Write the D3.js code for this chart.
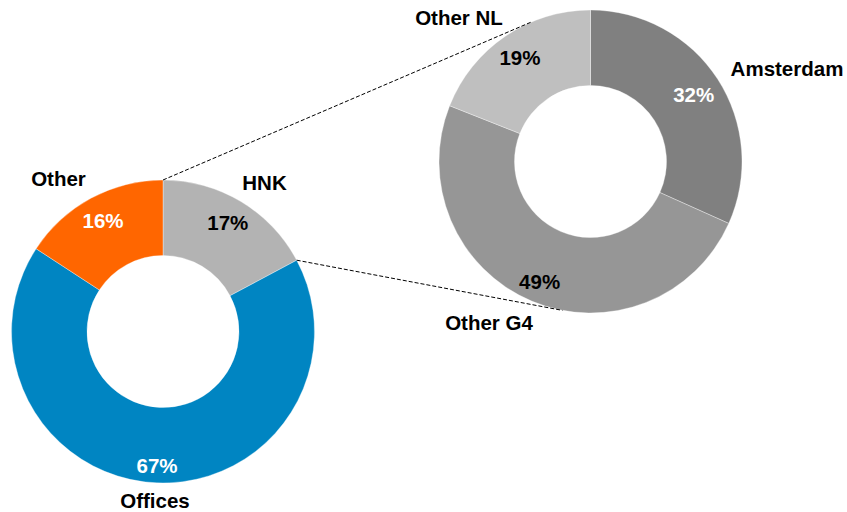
<!DOCTYPE html>
<html>
<head>
<meta charset="utf-8">
<script src="https://cdn.jsdelivr.net/npm/d3@7"></script>
<style>
  html, body { margin: 0; padding: 0; background: #fff; }
  svg text { font-family: "Liberation Sans", Arial, sans-serif; font-weight: bold; }
</style>
</head>
<body>
<svg id="chart" width="847" height="512"></svg>
<script>
// ---- data ----
const mainCategories = ["HNK", "Offices", "Other"];
const mainValues = [17.2, 67.0, 15.8];
const mainColors = ["#b3b3b3", "#0085c2", "#ff6600"];
const mainLabelColors = ["#000", "#fff", "#fff"];

const subCategories = ["Amsterdam", "Other G4", "Other NL"];
const subValues = [31.7, 49.3, 19.0];
const subColors = ["#808080", "#969696", "#bfbfbf"];
const subLabelColors = ["#fff", "#000", "#000"];

// ---- layout ----
const svg = d3.select("#chart");
const R = 151.5, r0 = 76;
const mainC = { x: 163, y: 331.5 };
const subC = { x: 590.5, y: 161.5 };
const fontSize = 20.5;

// per-label placement (radius for percent, offset for name)
const mainPctRadius = [126, 135, 126];
const mainNameOffset = [[101.5, -141.5], [-8, 176], [-104.5, -146]];
const subPctRadius = [123, 131, 125.5];
const subNameOffset = [[196.5, -85.5], [-101.5, 168.5], [-131.5, -136.5]];

const pie = d3.pie().sort(null).value(d => d.v);
const arc = d3.arc().innerRadius(r0).outerRadius(R);

function donut(center, cats, vals, colors, labelColors, pctRadius, nameOffset) {
  const data = cats.map((c, i) => ({ c, v: vals[i], i }));
  const arcs = pie(data);
  const g = svg.append("g").attr("transform", `translate(${center.x},${center.y})`);
  g.selectAll("path").data(arcs).join("path")
    .attr("d", arc)
    .attr("fill", d => colors[d.data.i])
    .attr("stroke", "#fff")
    .attr("stroke-width", 0.35);
  const total = d3.sum(vals);
  g.selectAll("text.pct").data(arcs).join("text")
    .attr("class", "pct")
    .attr("text-anchor", "middle")
    .attr("font-size", fontSize)
    .attr("fill", d => labelColors[d.data.i])
    .attr("x", d => { const a = (d.startAngle + d.endAngle) / 2; return pctRadius[d.data.i] * Math.sin(a); })
    .attr("y", d => { const a = (d.startAngle + d.endAngle) / 2; return -pctRadius[d.data.i] * Math.cos(a) + 7; })
    .text(d => Math.round(d.data.v / total * 100) + "%");
  g.selectAll("text.name").data(arcs).join("text")
    .attr("class", "name")
    .attr("text-anchor", "middle")
    .attr("font-size", fontSize)
    .attr("fill", "#000")
    .attr("x", d => nameOffset[d.data.i][0])
    .attr("y", d => nameOffset[d.data.i][1])
    .text(d => d.data.c);
  return arcs;
}

const mainArcs = donut(mainC, mainCategories, mainValues, mainColors, mainLabelColors, mainPctRadius, mainNameOffset);
donut(subC, subCategories, subValues, subColors, subLabelColors, subPctRadius, subNameOffset);

// ---- connector lines: tangents from the HNK slice edges to the sub donut ----
function polar(c, a) { return { x: c.x + R * Math.sin(a), y: c.y - R * Math.cos(a) }; }
function tangent(p, c, side) {
  const dx = p.x - c.x, dy = p.y - c.y;
  const d = Math.hypot(dx, dy);
  const phi = Math.atan2(dy, dx);
  const t = Math.acos(R / d);
  const a = phi + side * t;
  return { x: c.x + R * Math.cos(a), y: c.y + R * Math.sin(a) };
}
const hnk = mainArcs[0];
const p1 = polar(mainC, hnk.startAngle);
const p2 = polar(mainC, hnk.endAngle);
const t1 = tangent(p1, subC, 1);
const t2 = tangent(p2, subC, -1);
const line = d3.line().x(d => d.x).y(d => d.y);
[[p1, t1], [p2, t2]].forEach(seg => {
  svg.append("path")
    .attr("d", line(seg))
    .attr("fill", "none")
    .attr("stroke", "#000")
    .attr("stroke-width", 1)
    .attr("stroke-dasharray", "4,2");
});
</script>
</body>
</html>
